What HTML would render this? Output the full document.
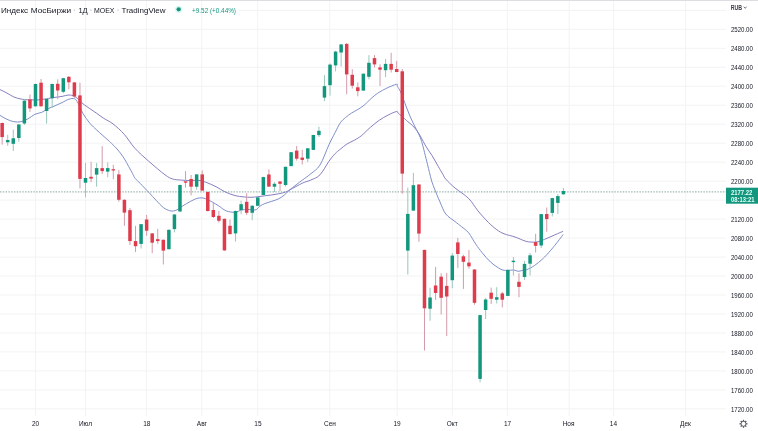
<!DOCTYPE html>
<html><head><meta charset="utf-8"><style>
html,body{margin:0;padding:0;background:#fff;width:758px;height:431px;overflow:hidden}
body{position:relative}
</style></head><body>
<svg width="758" height="431" viewBox="0 0 758 431" style="position:absolute;left:0;top:0;filter:blur(0.3px)"><g stroke="#F3F3F5" stroke-width="1"><line x1="0" y1="408.87" x2="726" y2="408.87"/><line x1="0" y1="389.90" x2="726" y2="389.90"/><line x1="0" y1="370.92" x2="726" y2="370.92"/><line x1="0" y1="351.94" x2="726" y2="351.94"/><line x1="0" y1="332.97" x2="726" y2="332.97"/><line x1="0" y1="313.99" x2="726" y2="313.99"/><line x1="0" y1="295.01" x2="726" y2="295.01"/><line x1="0" y1="276.03" x2="726" y2="276.03"/><line x1="0" y1="257.06" x2="726" y2="257.06"/><line x1="0" y1="238.08" x2="726" y2="238.08"/><line x1="0" y1="219.10" x2="726" y2="219.10"/><line x1="0" y1="200.12" x2="726" y2="200.12"/><line x1="0" y1="181.15" x2="726" y2="181.15"/><line x1="0" y1="162.17" x2="726" y2="162.17"/><line x1="0" y1="143.19" x2="726" y2="143.19"/><line x1="0" y1="124.22" x2="726" y2="124.22"/><line x1="0" y1="105.24" x2="726" y2="105.24"/><line x1="0" y1="86.26" x2="726" y2="86.26"/><line x1="0" y1="67.28" x2="726" y2="67.28"/><line x1="0" y1="48.31" x2="726" y2="48.31"/><line x1="0" y1="29.33" x2="726" y2="29.33"/><line x1="239" y1="10.35" x2="726" y2="10.35"/><line x1="35.50" y1="1" x2="35.50" y2="416"/><line x1="85.50" y1="1" x2="85.50" y2="416"/><line x1="146.30" y1="1" x2="146.30" y2="416"/><line x1="201.80" y1="1" x2="201.80" y2="416"/><line x1="257.70" y1="1" x2="257.70" y2="416"/><line x1="329.80" y1="1" x2="329.80" y2="416"/><line x1="397.20" y1="1" x2="397.20" y2="416"/><line x1="452.30" y1="1" x2="452.30" y2="416"/><line x1="507.40" y1="1" x2="507.40" y2="416"/><line x1="569.20" y1="1" x2="569.20" y2="416"/><line x1="613.60" y1="1" x2="613.60" y2="416"/><line x1="685.70" y1="1" x2="685.70" y2="416"/></g><rect x="0" y="0" width="758" height="1" fill="#DDDCE1"/><line x1="0" y1="191.85" x2="726" y2="191.85" stroke="#7FA39C" stroke-width="1.1" stroke-dasharray="1.5 1.28" opacity="0.75"/><path d="M0.00,89.60 C1.17,90.18 4.68,91.87 7.00,93.10 C9.32,94.33 11.58,96.02 13.90,97.00 C16.22,97.98 18.57,98.53 20.90,99.00 C23.23,99.47 24.88,99.67 27.90,99.80 C30.92,99.93 35.53,100.03 39.00,99.80 C42.47,99.57 46.03,98.80 48.70,98.40 C51.37,98.00 52.78,97.73 55.00,97.40 C57.22,97.07 59.68,96.80 62.00,96.40 C64.32,96.00 66.82,95.00 68.90,95.00 C70.98,95.00 72.63,95.42 74.50,96.40 C76.37,97.38 78.70,99.68 80.10,100.90 C81.50,102.12 81.28,102.42 82.90,103.70 C84.52,104.98 87.48,106.98 89.80,108.60 C92.12,110.22 94.48,111.78 96.80,113.40 C99.12,115.02 101.00,116.55 103.70,118.30 C106.40,120.05 109.55,121.20 113.00,123.90 C116.45,126.60 120.75,130.43 124.40,134.50 C128.05,138.57 130.83,143.83 134.90,148.30 C138.97,152.77 143.78,156.88 148.80,161.30 C153.82,165.72 161.02,171.85 165.00,174.80 C168.98,177.75 170.15,178.13 172.70,179.00 C175.25,179.87 177.33,179.73 180.30,180.00 C183.27,180.27 187.52,180.55 190.50,180.60 C193.48,180.65 195.65,180.03 198.20,180.30 C200.75,180.57 202.83,181.13 205.80,182.20 C208.77,183.27 212.82,185.10 216.00,186.70 C219.18,188.30 221.73,190.32 224.90,191.80 C228.07,193.28 231.83,194.75 235.00,195.60 C238.17,196.45 241.25,196.62 243.90,196.90 C246.55,197.18 248.58,197.33 250.90,197.30 C253.22,197.27 255.48,196.95 257.80,196.70 C260.12,196.45 262.47,196.10 264.80,195.80 C267.13,195.50 269.48,195.23 271.80,194.90 C274.12,194.57 276.38,194.28 278.70,193.80 C281.02,193.32 283.82,192.67 285.70,192.00 C287.58,191.33 287.20,191.28 290.00,189.80 C292.80,188.32 299.02,184.73 302.50,183.10 C305.98,181.47 307.98,181.38 310.90,180.00 C313.82,178.62 316.98,177.93 320.00,174.80 C323.02,171.67 326.48,164.72 329.00,161.20 C331.52,157.68 333.22,155.70 335.10,153.70 C336.98,151.70 338.30,150.83 340.30,149.20 C342.30,147.57 344.72,145.42 347.10,143.90 C349.48,142.38 352.20,141.48 354.60,140.10 C357.00,138.72 358.90,137.70 361.50,135.60 C364.10,133.50 367.25,130.05 370.20,127.50 C373.15,124.95 376.20,122.38 379.20,120.30 C382.20,118.22 385.32,116.47 388.20,115.00 C391.08,113.53 394.83,111.82 396.50,111.50 C398.17,111.18 396.83,111.88 398.20,113.10 C399.57,114.32 403.07,117.35 404.70,118.80 C406.33,120.25 406.70,120.67 408.00,121.80 C409.30,122.93 411.00,124.10 412.50,125.60 C414.00,127.10 415.62,128.92 417.00,130.80 C418.38,132.68 419.28,134.25 420.80,136.90 C422.32,139.55 424.22,143.57 426.10,146.70 C427.98,149.83 430.08,152.43 432.10,155.70 C434.12,158.97 436.38,163.15 438.20,166.30 C440.02,169.45 441.73,172.45 443.00,174.60 C444.27,176.75 443.80,176.97 445.80,179.20 C447.80,181.43 451.20,184.80 455.00,188.00 C458.80,191.20 464.77,194.58 468.60,198.40 C472.43,202.22 474.70,206.90 478.00,210.90 C481.30,214.90 485.27,219.27 488.40,222.40 C491.53,225.53 494.18,227.80 496.80,229.70 C499.42,231.60 501.07,232.58 504.10,233.80 C507.13,235.02 511.52,235.80 515.00,237.00 C518.48,238.20 522.25,240.15 525.00,241.00 C527.75,241.85 529.33,241.97 531.50,242.10 C533.67,242.23 535.83,242.25 538.00,241.80 C540.17,241.35 542.33,240.27 544.50,239.40 C546.67,238.53 548.83,237.55 551.00,236.60 C553.17,235.65 555.48,234.58 557.50,233.70 C559.52,232.82 562.17,231.70 563.10,231.30" fill="none" stroke="#7F78BC" stroke-width="0.95" stroke-linejoin="round"/><path d="M0.00,115.40 C1.17,116.05 4.68,118.25 7.00,119.30 C9.32,120.35 11.58,121.30 13.90,121.70 C16.22,122.10 18.57,122.17 20.90,121.70 C23.23,121.23 25.58,120.13 27.90,118.90 C30.22,117.67 32.48,115.40 34.80,114.30 C37.12,113.20 39.48,113.28 41.80,112.30 C44.12,111.32 46.50,109.48 48.70,108.40 C50.90,107.32 52.78,106.77 55.00,105.80 C57.22,104.83 59.68,103.70 62.00,102.60 C64.32,101.50 66.82,99.83 68.90,99.20 C70.98,98.57 72.98,98.17 74.50,98.80 C76.02,99.43 76.60,100.57 78.00,103.00 C79.40,105.43 80.93,110.03 82.90,113.40 C84.87,116.77 87.48,120.42 89.80,123.20 C92.12,125.98 94.77,128.17 96.80,130.10 C98.83,132.03 100.15,133.15 102.00,134.80 C103.85,136.45 106.33,138.58 107.90,140.00 C109.47,141.42 109.73,141.63 111.40,143.30 C113.07,144.97 115.73,147.40 117.90,150.00 C120.07,152.60 121.97,154.98 124.40,158.90 C126.83,162.82 130.70,170.25 132.50,173.50 C134.30,176.75 133.88,176.72 135.20,178.40 C136.52,180.08 138.13,181.27 140.40,183.60 C142.67,185.93 146.18,189.62 148.80,192.40 C151.42,195.18 153.67,197.77 156.10,200.30 C158.53,202.83 161.13,205.87 163.40,207.60 C165.67,209.33 167.97,210.15 169.70,210.70 C171.43,211.25 172.42,211.13 173.80,210.90 C175.18,210.67 176.48,210.15 178.00,209.30 C179.52,208.45 180.82,207.12 182.90,205.80 C184.98,204.48 188.17,202.63 190.50,201.40 C192.83,200.17 194.98,198.98 196.90,198.40 C198.82,197.82 200.52,197.83 202.00,197.90 C203.48,197.97 204.10,198.12 205.80,198.80 C207.50,199.48 210.07,200.83 212.20,202.00 C214.33,203.17 216.27,204.32 218.60,205.80 C220.93,207.28 223.47,209.83 226.20,210.90 C228.93,211.97 232.43,212.35 235.00,212.20 C237.57,212.05 239.53,210.47 241.60,210.00 C243.67,209.53 245.47,209.40 247.40,209.40 C249.33,209.40 251.65,210.00 253.20,210.00 C254.75,210.00 255.53,210.07 256.70,209.40 C257.87,208.73 258.85,206.97 260.20,206.00 C261.55,205.03 262.87,204.38 264.80,203.60 C266.73,202.82 269.48,202.10 271.80,201.30 C274.12,200.50 276.58,199.87 278.70,198.80 C280.82,197.73 282.62,196.43 284.50,194.90 C286.38,193.37 287.00,192.08 290.00,189.60 C293.00,187.12 299.02,182.65 302.50,180.00 C305.98,177.35 307.98,176.20 310.90,173.70 C313.82,171.20 316.98,169.85 320.00,165.00 C323.02,160.15 326.48,150.00 329.00,144.60 C331.52,139.20 333.22,136.23 335.10,132.60 C336.98,128.97 338.55,125.32 340.30,122.80 C342.05,120.28 343.72,119.13 345.60,117.50 C347.48,115.87 349.72,114.25 351.60,113.00 C353.48,111.75 354.82,111.30 356.90,110.00 C358.98,108.70 361.13,107.63 364.10,105.20 C367.07,102.77 371.18,98.12 374.70,95.40 C378.22,92.68 381.57,90.75 385.20,88.90 C388.83,87.05 394.47,84.72 396.50,84.30 C398.53,83.88 396.70,85.12 397.40,86.40 C398.10,87.68 399.48,89.30 400.70,92.00 C401.92,94.70 403.23,98.77 404.70,102.60 C406.17,106.43 407.95,111.30 409.50,115.00 C411.05,118.70 412.48,121.65 414.00,124.80 C415.52,127.95 417.33,131.13 418.60,133.90 C419.87,136.67 420.60,138.27 421.60,141.40 C422.60,144.53 423.60,148.80 424.60,152.70 C425.60,156.60 426.47,160.25 427.60,164.80 C428.73,169.35 430.30,176.13 431.40,180.00 C432.50,183.87 432.77,184.33 434.20,188.00 C435.63,191.67 438.07,197.67 440.00,202.00 C441.93,206.33 443.28,210.73 445.80,214.00 C448.32,217.27 452.52,219.52 455.10,221.60 C457.68,223.68 459.05,224.63 461.30,226.50 C463.55,228.37 466.17,229.83 468.60,232.80 C471.03,235.77 473.65,241.00 475.90,244.30 C478.15,247.60 479.67,249.65 482.10,252.60 C484.53,255.55 487.37,259.22 490.50,262.00 C493.63,264.78 498.12,267.90 500.90,269.30 C503.68,270.70 505.03,270.28 507.20,270.40 C509.37,270.52 512.08,269.85 513.90,270.00 C515.72,270.15 516.70,271.23 518.10,271.30 C519.50,271.37 520.87,270.67 522.30,270.40 C523.73,270.13 524.68,270.50 526.70,269.70 C528.72,268.90 531.85,267.30 534.40,265.60 C536.95,263.90 539.88,261.37 542.00,259.50 C544.12,257.63 544.97,256.75 547.10,254.40 C549.23,252.05 552.13,248.70 554.80,245.40 C557.47,242.10 561.72,236.40 563.10,234.60" fill="none" stroke="#7889C6" stroke-width="0.95" stroke-linejoin="round"/><g fill="#99C6BE"><rect x="7.21" y="134.80" width="1.0" height="11.00"/><rect x="12.77" y="129.60" width="1.0" height="21.40"/><rect x="18.33" y="124.00" width="1.0" height="17.70"/><rect x="23.89" y="99.00" width="1.0" height="26.00"/><rect x="35.00" y="83.50" width="1.0" height="23.00"/><rect x="46.11" y="98.50" width="1.0" height="25.10"/><rect x="51.67" y="83.50" width="1.0" height="24.50"/><rect x="62.79" y="77.80" width="1.0" height="15.50"/><rect x="85.01" y="162.90" width="1.0" height="34.30"/><rect x="96.13" y="162.90" width="1.0" height="23.80"/><rect x="107.24" y="162.40" width="1.0" height="14.80"/><rect x="140.58" y="224.00" width="1.0" height="24.50"/><rect x="168.37" y="229.50" width="1.0" height="20.00"/><rect x="173.93" y="214.00" width="1.0" height="18.40"/><rect x="179.48" y="184.50" width="1.0" height="27.30"/><rect x="196.15" y="174.00" width="1.0" height="15.70"/><rect x="235.05" y="210.50" width="1.0" height="31.10"/><rect x="240.61" y="200.70" width="1.0" height="13.50"/><rect x="251.72" y="205.00" width="1.0" height="15.20"/><rect x="257.28" y="197.00" width="1.0" height="9.00"/><rect x="262.84" y="176.60" width="1.0" height="18.60"/><rect x="273.95" y="182.10" width="1.0" height="9.90"/><rect x="285.07" y="166.50" width="1.0" height="20.20"/><rect x="290.62" y="152.00" width="1.0" height="14.30"/><rect x="307.29" y="148.00" width="1.0" height="14.20"/><rect x="312.85" y="134.70" width="1.0" height="15.30"/><rect x="318.41" y="126.70" width="1.0" height="10.30"/><rect x="323.96" y="75.20" width="1.0" height="26.00"/><rect x="329.52" y="63.40" width="1.0" height="32.20"/><rect x="335.08" y="50.80" width="1.0" height="20.50"/><rect x="340.64" y="44.00" width="1.0" height="22.50"/><rect x="362.86" y="73.50" width="1.0" height="17.30"/><rect x="368.42" y="55.20" width="1.0" height="24.10"/><rect x="385.09" y="59.00" width="1.0" height="18.10"/><rect x="407.32" y="187.50" width="1.0" height="87.00"/><rect x="412.88" y="172.90" width="1.0" height="37.90"/><rect x="429.55" y="287.70" width="1.0" height="33.10"/><rect x="451.78" y="253.10" width="1.0" height="35.10"/><rect x="479.56" y="314.80" width="1.0" height="67.50"/><rect x="485.12" y="298.10" width="1.0" height="20.90"/><rect x="496.23" y="287.20" width="1.0" height="16.30"/><rect x="507.35" y="269.70" width="1.0" height="26.40"/><rect x="512.90" y="257.00" width="1.0" height="18.50"/><rect x="524.02" y="260.80" width="1.0" height="19.00"/><rect x="529.57" y="252.90" width="1.0" height="22.60"/><rect x="540.69" y="213.90" width="1.0" height="34.20"/><rect x="551.80" y="197.80" width="1.0" height="18.70"/><rect x="557.36" y="194.20" width="1.0" height="19.80"/><rect x="562.92" y="188.10" width="1.0" height="6.40"/></g><g fill="#D39BA9"><rect x="1.66" y="122.50" width="1.0" height="22.10"/><rect x="29.44" y="94.60" width="1.0" height="17.30"/><rect x="40.56" y="79.00" width="1.0" height="27.50"/><rect x="57.23" y="79.30" width="1.0" height="19.90"/><rect x="68.34" y="76.00" width="1.0" height="13.20"/><rect x="73.90" y="82.00" width="1.0" height="15.70"/><rect x="79.46" y="82.70" width="1.0" height="105.80"/><rect x="90.57" y="161.90" width="1.0" height="20.10"/><rect x="101.68" y="146.20" width="1.0" height="27.80"/><rect x="112.80" y="164.70" width="1.0" height="14.60"/><rect x="118.36" y="170.10" width="1.0" height="31.60"/><rect x="123.91" y="199.50" width="1.0" height="26.30"/><rect x="129.47" y="207.90" width="1.0" height="37.10"/><rect x="135.03" y="225.80" width="1.0" height="26.20"/><rect x="146.14" y="214.90" width="1.0" height="20.90"/><rect x="151.70" y="233.00" width="1.0" height="20.20"/><rect x="157.25" y="228.80" width="1.0" height="15.10"/><rect x="162.81" y="239.50" width="1.0" height="25.00"/><rect x="185.04" y="171.10" width="1.0" height="16.30"/><rect x="190.60" y="175.00" width="1.0" height="20.30"/><rect x="201.71" y="170.40" width="1.0" height="20.40"/><rect x="207.27" y="191.50" width="1.0" height="20.00"/><rect x="212.82" y="202.50" width="1.0" height="15.50"/><rect x="218.38" y="211.00" width="1.0" height="11.50"/><rect x="223.94" y="218.50" width="1.0" height="32.30"/><rect x="229.50" y="219.50" width="1.0" height="15.00"/><rect x="246.17" y="193.20" width="1.0" height="21.80"/><rect x="268.39" y="169.40" width="1.0" height="17.60"/><rect x="279.51" y="181.00" width="1.0" height="10.00"/><rect x="296.18" y="146.00" width="1.0" height="14.60"/><rect x="301.74" y="149.90" width="1.0" height="14.60"/><rect x="346.19" y="43.00" width="1.0" height="51.30"/><rect x="351.75" y="69.20" width="1.0" height="19.40"/><rect x="357.31" y="82.50" width="1.0" height="13.80"/><rect x="373.98" y="55.10" width="1.0" height="12.30"/><rect x="379.53" y="64.40" width="1.0" height="21.50"/><rect x="390.65" y="52.80" width="1.0" height="19.70"/><rect x="396.21" y="60.90" width="1.0" height="11.40"/><rect x="401.76" y="69.00" width="1.0" height="124.80"/><rect x="418.43" y="184.20" width="1.0" height="57.60"/><rect x="423.99" y="249.60" width="1.0" height="100.90"/><rect x="435.10" y="266.90" width="1.0" height="33.00"/><rect x="440.66" y="273.30" width="1.0" height="41.20"/><rect x="446.22" y="272.90" width="1.0" height="63.20"/><rect x="457.33" y="237.80" width="1.0" height="30.10"/><rect x="462.89" y="254.70" width="1.0" height="34.20"/><rect x="468.45" y="250.00" width="1.0" height="18.60"/><rect x="474.00" y="269.20" width="1.0" height="35.50"/><rect x="490.67" y="287.60" width="1.0" height="16.30"/><rect x="501.79" y="291.80" width="1.0" height="15.60"/><rect x="518.46" y="273.20" width="1.0" height="24.10"/><rect x="535.13" y="233.80" width="1.0" height="18.60"/><rect x="546.24" y="207.50" width="1.0" height="24.20"/></g><g fill="#12967E"><rect x="5.96" y="140.00" width="3.5" height="2.30"/><rect x="11.52" y="138.30" width="3.5" height="5.50"/><rect x="17.08" y="124.50" width="3.5" height="13.50"/><rect x="22.64" y="100.70" width="3.5" height="22.80"/><rect x="33.75" y="84.00" width="3.5" height="22.30"/><rect x="44.86" y="99.00" width="3.5" height="12.00"/><rect x="50.42" y="84.00" width="3.5" height="14.20"/><rect x="61.54" y="78.20" width="3.5" height="13.60"/><rect x="83.76" y="178.00" width="3.5" height="4.70"/><rect x="94.88" y="168.10" width="3.5" height="6.50"/><rect x="105.99" y="168.10" width="3.5" height="3.50"/><rect x="139.33" y="224.20" width="3.5" height="19.70"/><rect x="167.12" y="229.80" width="3.5" height="19.40"/><rect x="172.68" y="214.50" width="3.5" height="14.60"/><rect x="178.23" y="185.00" width="3.5" height="26.50"/><rect x="194.90" y="174.40" width="3.5" height="12.30"/><rect x="233.80" y="211.00" width="3.5" height="22.40"/><rect x="239.36" y="204.20" width="3.5" height="5.90"/><rect x="250.47" y="205.80" width="3.5" height="7.00"/><rect x="256.03" y="197.40" width="3.5" height="8.40"/><rect x="261.59" y="177.10" width="3.5" height="17.90"/><rect x="272.70" y="183.80" width="3.5" height="2.90"/><rect x="283.82" y="166.80" width="3.5" height="18.20"/><rect x="289.37" y="152.20" width="3.5" height="13.90"/><rect x="306.04" y="148.30" width="3.5" height="10.40"/><rect x="311.60" y="135.00" width="3.5" height="14.90"/><rect x="317.16" y="130.80" width="3.5" height="4.30"/><rect x="322.71" y="86.10" width="3.5" height="11.50"/><rect x="328.27" y="64.60" width="3.5" height="20.60"/><rect x="333.83" y="51.60" width="3.5" height="13.80"/><rect x="339.39" y="44.40" width="3.5" height="8.10"/><rect x="361.61" y="73.70" width="3.5" height="16.90"/><rect x="367.17" y="62.80" width="3.5" height="14.00"/><rect x="383.84" y="63.90" width="3.5" height="6.30"/><rect x="406.07" y="213.90" width="3.5" height="36.70"/><rect x="411.63" y="185.20" width="3.5" height="25.40"/><rect x="428.30" y="297.50" width="3.5" height="11.20"/><rect x="450.53" y="255.60" width="3.5" height="24.60"/><rect x="478.31" y="315.10" width="3.5" height="63.80"/><rect x="483.87" y="299.50" width="3.5" height="10.50"/><rect x="494.98" y="297.20" width="3.5" height="2.50"/><rect x="506.10" y="269.90" width="3.5" height="26.00"/><rect x="511.65" y="260.70" width="3.5" height="1.40"/><rect x="522.77" y="263.90" width="3.5" height="13.10"/><rect x="528.32" y="255.30" width="3.5" height="8.40"/><rect x="539.44" y="214.10" width="3.5" height="31.40"/><rect x="550.55" y="198.10" width="3.5" height="14.80"/><rect x="556.11" y="196.10" width="3.5" height="6.80"/><rect x="561.67" y="191.00" width="3.5" height="3.30"/></g><g fill="#DE3C4C"><rect x="0.41" y="123.00" width="3.5" height="14.10"/><rect x="28.19" y="99.40" width="3.5" height="9.00"/><rect x="39.31" y="82.70" width="3.5" height="23.60"/><rect x="55.98" y="83.80" width="3.5" height="6.70"/><rect x="67.09" y="76.80" width="3.5" height="5.50"/><rect x="72.65" y="82.40" width="3.5" height="14.10"/><rect x="78.21" y="95.40" width="3.5" height="83.50"/><rect x="89.32" y="176.80" width="3.5" height="1.80"/><rect x="100.43" y="168.10" width="3.5" height="3.00"/><rect x="111.55" y="169.20" width="3.5" height="1.30"/><rect x="117.11" y="174.40" width="3.5" height="25.40"/><rect x="122.66" y="199.80" width="3.5" height="12.80"/><rect x="128.22" y="210.20" width="3.5" height="30.90"/><rect x="133.78" y="241.10" width="3.5" height="5.10"/><rect x="144.89" y="219.50" width="3.5" height="11.20"/><rect x="150.45" y="233.40" width="3.5" height="9.30"/><rect x="156.00" y="239.20" width="3.5" height="1.90"/><rect x="161.56" y="239.80" width="3.5" height="10.80"/><rect x="183.79" y="181.30" width="3.5" height="1.40"/><rect x="189.35" y="179.00" width="3.5" height="7.70"/><rect x="200.46" y="174.40" width="3.5" height="16.20"/><rect x="206.02" y="192.00" width="3.5" height="19.00"/><rect x="211.57" y="210.00" width="3.5" height="7.00"/><rect x="217.13" y="215.80" width="3.5" height="5.00"/><rect x="222.69" y="218.80" width="3.5" height="31.60"/><rect x="228.25" y="225.80" width="3.5" height="8.30"/><rect x="244.92" y="201.80" width="3.5" height="11.00"/><rect x="267.14" y="174.50" width="3.5" height="12.10"/><rect x="278.26" y="181.50" width="3.5" height="2.30"/><rect x="294.93" y="150.60" width="3.5" height="8.10"/><rect x="300.49" y="157.60" width="3.5" height="2.30"/><rect x="344.94" y="43.90" width="3.5" height="30.50"/><rect x="350.50" y="74.80" width="3.5" height="10.90"/><rect x="356.06" y="87.30" width="3.5" height="3.80"/><rect x="372.73" y="58.10" width="3.5" height="6.30"/><rect x="378.28" y="67.40" width="3.5" height="2.30"/><rect x="389.40" y="63.90" width="3.5" height="5.80"/><rect x="394.96" y="69.00" width="3.5" height="3.00"/><rect x="400.51" y="71.30" width="3.5" height="102.30"/><rect x="417.18" y="184.50" width="3.5" height="49.10"/><rect x="422.74" y="249.90" width="3.5" height="58.40"/><rect x="433.85" y="285.50" width="3.5" height="7.50"/><rect x="439.41" y="276.70" width="3.5" height="21.10"/><rect x="444.97" y="285.90" width="3.5" height="10.60"/><rect x="456.08" y="242.40" width="3.5" height="11.60"/><rect x="461.64" y="256.30" width="3.5" height="5.50"/><rect x="467.20" y="262.60" width="3.5" height="3.70"/><rect x="472.75" y="269.50" width="3.5" height="33.30"/><rect x="489.42" y="292.70" width="3.5" height="6.10"/><rect x="500.54" y="293.40" width="3.5" height="6.30"/><rect x="517.21" y="281.80" width="3.5" height="5.10"/><rect x="533.88" y="242.10" width="3.5" height="3.70"/><rect x="544.99" y="214.00" width="3.5" height="5.10"/></g><g font-family="Liberation Sans, sans-serif" font-size="6.8" fill="#131722"><text x="730.9" y="411.72" textLength="22" lengthAdjust="spacingAndGlyphs">1720.00</text><text x="730.9" y="392.75" textLength="22" lengthAdjust="spacingAndGlyphs">1760.00</text><text x="730.9" y="373.77" textLength="22" lengthAdjust="spacingAndGlyphs">1800.00</text><text x="730.9" y="354.79" textLength="22" lengthAdjust="spacingAndGlyphs">1840.00</text><text x="730.9" y="335.82" textLength="22" lengthAdjust="spacingAndGlyphs">1880.00</text><text x="730.9" y="316.84" textLength="22" lengthAdjust="spacingAndGlyphs">1920.00</text><text x="730.9" y="297.86" textLength="22" lengthAdjust="spacingAndGlyphs">1960.00</text><text x="730.9" y="278.88" textLength="22" lengthAdjust="spacingAndGlyphs">2000.00</text><text x="730.9" y="259.91" textLength="22" lengthAdjust="spacingAndGlyphs">2040.00</text><text x="730.9" y="240.93" textLength="22" lengthAdjust="spacingAndGlyphs">2080.00</text><text x="730.9" y="221.95" textLength="22" lengthAdjust="spacingAndGlyphs">2120.00</text><text x="730.9" y="184.00" textLength="22" lengthAdjust="spacingAndGlyphs">2200.00</text><text x="730.9" y="165.02" textLength="22" lengthAdjust="spacingAndGlyphs">2240.00</text><text x="730.9" y="146.04" textLength="22" lengthAdjust="spacingAndGlyphs">2280.00</text><text x="730.9" y="127.07" textLength="22" lengthAdjust="spacingAndGlyphs">2320.00</text><text x="730.9" y="108.09" textLength="22" lengthAdjust="spacingAndGlyphs">2360.00</text><text x="730.9" y="89.11" textLength="22" lengthAdjust="spacingAndGlyphs">2400.00</text><text x="730.9" y="70.13" textLength="22" lengthAdjust="spacingAndGlyphs">2440.00</text><text x="730.9" y="51.16" textLength="22" lengthAdjust="spacingAndGlyphs">2480.00</text><text x="730.9" y="32.18" textLength="22" lengthAdjust="spacingAndGlyphs">2520.00</text></g><rect x="726" y="187.7" width="32" height="16" fill="#12967E"/><g font-family="Liberation Sans, sans-serif" font-size="6.8" font-weight="bold" fill="#E6FFF8"><text x="731" y="194.6" textLength="21.4" lengthAdjust="spacingAndGlyphs">2177.22</text><text x="731" y="201.5" textLength="23.4" lengthAdjust="spacingAndGlyphs">08:13:21</text></g><text x="730.7" y="9.9" font-family="Liberation Sans, sans-serif" font-size="7" font-weight="bold" fill="#3A3D47" textLength="11.4" lengthAdjust="spacingAndGlyphs">RUB</text><path d="M743.7 6.9 L745.15 8.2 L746.6 6.9" fill="none" stroke="#50535E" stroke-width="0.9"/><g font-family="Liberation Sans, sans-serif" font-size="6.5" fill="#131722"><text x="35.5" y="425.8" text-anchor="middle">20</text><text x="85.5" y="425.8" text-anchor="middle">Июл</text><text x="146.8" y="425.8" text-anchor="middle">18</text><text x="201.9" y="425.8" text-anchor="middle">Авг</text><text x="257.9" y="425.8" text-anchor="middle">15</text><text x="330" y="425.8" text-anchor="middle">Сен</text><text x="397" y="425.8" text-anchor="middle">19</text><text x="452.3" y="425.8" text-anchor="middle">Окт</text><text x="507.5" y="425.8" text-anchor="middle">17</text><text x="568.6" y="425.8" text-anchor="middle">Ноя</text><text x="613.4" y="425.8" text-anchor="middle">14</text><text x="685.5" y="425.8" text-anchor="middle">Дек</text></g><g opacity="0.72"><circle cx="743.5" cy="423.8" r="2.5" fill="none" stroke="#131722" stroke-width="0.95"/><rect x="742.90" y="419.80" width="1.2" height="1.6" fill="#131722" transform="rotate(0 743.5 423.8)"/><rect x="742.90" y="419.80" width="1.2" height="1.6" fill="#131722" transform="rotate(45 743.5 423.8)"/><rect x="742.90" y="419.80" width="1.2" height="1.6" fill="#131722" transform="rotate(90 743.5 423.8)"/><rect x="742.90" y="419.80" width="1.2" height="1.6" fill="#131722" transform="rotate(135 743.5 423.8)"/><rect x="742.90" y="419.80" width="1.2" height="1.6" fill="#131722" transform="rotate(180 743.5 423.8)"/><rect x="742.90" y="419.80" width="1.2" height="1.6" fill="#131722" transform="rotate(225 743.5 423.8)"/><rect x="742.90" y="419.80" width="1.2" height="1.6" fill="#131722" transform="rotate(270 743.5 423.8)"/><rect x="742.90" y="419.80" width="1.2" height="1.6" fill="#131722" transform="rotate(315 743.5 423.8)"/></g><g font-family="Liberation Sans, sans-serif" font-size="7.9" fill="#131722"><text x="1.0" y="12.55" textLength="27.1" lengthAdjust="spacingAndGlyphs">Индекс</text><text x="30.7" y="12.55" textLength="40.5" lengthAdjust="spacingAndGlyphs">МосБиржи</text><text x="78.4" y="12.55" textLength="9.3" lengthAdjust="spacingAndGlyphs">1Д</text><text x="94.0" y="12.55" textLength="20.4" lengthAdjust="spacingAndGlyphs">MOEX</text><text x="121.6" y="12.55" textLength="44.0" lengthAdjust="spacingAndGlyphs">TradingView</text></g><circle cx="74.3" cy="10" r="0.6" fill="#9598A1"/><circle cx="90.9" cy="10" r="0.6" fill="#9598A1"/><circle cx="118.0" cy="10" r="0.6" fill="#9598A1"/><circle cx="178.7" cy="9.35" r="3.7" fill="#A8EDE0" opacity="0.45"/><circle cx="178.7" cy="9.35" r="2.15" fill="#12967E"/><text x="192.1" y="12.6" font-family="Liberation Sans, sans-serif" font-size="6.7" fill="#12967E" textLength="43.9" lengthAdjust="spacingAndGlyphs">+9.52 (+0.44%)</text></svg>
</body></html>
